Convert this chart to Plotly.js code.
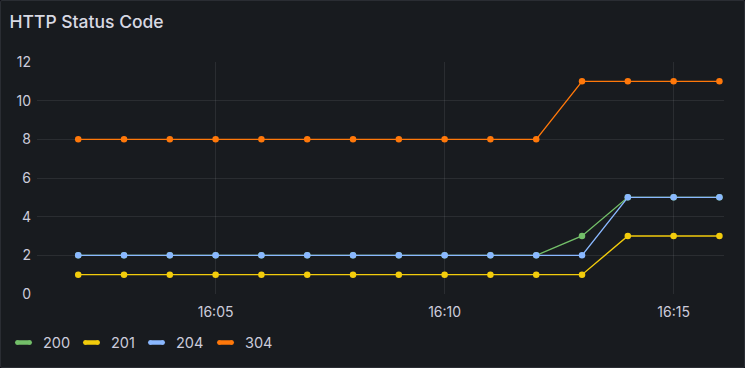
<!DOCTYPE html>
<html>
<head>
<meta charset="utf-8">
<script src="https://cdn.plot.ly/plotly-3.0.1.min.js"></script>
<style>
html,body{margin:0;padding:0;background:#111217;}
#wrap{position:absolute;left:0;top:0;width:743px;height:366px;border:1px solid #2a2d33;border-radius:2px;background:#181b1f;overflow:hidden;}
#chart{position:absolute;left:-1px;top:-1px;width:745px;height:368px;}
</style>
</head>
<body>
<div id="wrap"><div id="chart"></div></div>
<script>
const times = ["16:02","16:03","16:04","16:05","16:06","16:07","16:08","16:09","16:10","16:11","16:12","16:13","16:14","16:15","16:16"];
const s200 = [2,2,2,2,2,2,2,2,2,2,2,3,5,5,5];
const s201 = [1,1,1,1,1,1,1,1,1,1,1,1,3,3,3];
const s204 = [2,2,2,2,2,2,2,2,2,2,2,2,5,5,5];
const s304 = [8,8,8,8,8,8,8,8,8,8,8,11,11,11,11];
const names = ["200","201","204","304"];
const colors = ["#73BF69","#F2CC0C","#8AB8FF","#FF780A"];
const xTickLabels = ["16:05","16:10","16:15"];
const yTicks = [0,2,4,6,8,10,12];
const series = [s200,s201,s204,s304];

const W = 745, H = 368;
const M = {l: 37, r: 21, t: 62, b: 74};
const pw = W - M.l - M.r, ph = H - M.t - M.b;
const px2paperX = p => (p - M.l) / pw;
const px2paperY = p => (H - M.b - p) / ph;

const day = "2024-01-01 ";
const x = times.map(t => day + t + ":00");

const traces = [];
const order = [3,1,0,2];
order.forEach(i => {
  traces.push({
    x: x, y: series[i], type: "scatter", mode: "lines+markers",
    name: names[i], showlegend: false,
    line: {color: colors[i], width: 1.4},
    marker: {color: colors[i], size: 6.5},
    cliponaxis: false, hoverinfo: "skip"
  });
});

// custom legend (Grafana style)
const legendX = [15, 83, 148, 217];
const legendY = 342.5;
const shapes = [], annotations = [];
names.forEach((n,i) => {
  shapes.push({type: "line", xref: "paper", yref: "paper",
    x0: px2paperX(legendX[i] + 1.5), x1: px2paperX(legendX[i] + 15.5),
    y0: px2paperY(legendY), y1: px2paperY(legendY),
    line: {color: colors[i], width: 4.5}});
  shapes.push({type: "circle", xref: "paper", yref: "paper",
    x0: px2paperX(legendX[i]), x1: px2paperX(legendX[i] + 4.5),
    y0: px2paperY(legendY - 2.25), y1: px2paperY(legendY + 2.25),
    fillcolor: colors[i], line: {width: 0}});
  shapes.push({type: "circle", xref: "paper", yref: "paper",
    x0: px2paperX(legendX[i] + 12.5), x1: px2paperX(legendX[i] + 17),
    y0: px2paperY(legendY - 2.25), y1: px2paperY(legendY + 2.25),
    fillcolor: colors[i], line: {width: 0}});
  annotations.push({xref: "paper", yref: "paper", x: px2paperX(legendX[i] + 25.5), y: px2paperY(legendY),
    xanchor: "left", yanchor: "middle", text: n, showarrow: false,
    font: {family: "Inter, sans-serif", size: 14.5, color: "#ccccdc"}});
});

const layout = {
  width: W, height: H,
  paper_bgcolor: "rgba(0,0,0,0)", plot_bgcolor: "rgba(0,0,0,0)",
  margin: M,
  font: {family: "Inter, sans-serif", size: 14, color: "#ccccdc"},
  title: {text: "HTTP Status Code", x: 9.5 / W, xref: "container", xanchor: "left",
          y: 1 - 21.5 / H, yref: "container", yanchor: "middle",
          font: {family: "Inter, sans-serif", size: 17.5, color: "#d8d9e3", weight: 500}},
  xaxis: {
    type: "date",
    range: [day + "16:01:06", day + "16:16:06"],
    tickvals: xTickLabels.map(t => day + t + ":00"),
    ticktext: xTickLabels,
    showgrid: true, gridcolor: "rgba(204,204,220,0.1)", gridwidth: 1,
    zeroline: false, showline: false, ticks: "", ticklabelstandoff: 8,
    tickfont: {size: 14, color: "#ccccdc"}, fixedrange: true
  },
  yaxis: {
    range: [0, 12], tickvals: yTicks,
    showgrid: true, gridcolor: "rgba(204,204,220,0.1)", gridwidth: 1,
    zeroline: false, showline: false, ticks: "", ticklabelstandoff: 5,
    tickfont: {size: 14, color: "#ccccdc"}, fixedrange: true
  },
  showlegend: false,
  shapes: shapes,
  annotations: annotations,
  hovermode: false
};

Plotly.newPlot("chart", traces, layout, {displayModeBar: false, staticPlot: true});
</script>
</body>
</html>
